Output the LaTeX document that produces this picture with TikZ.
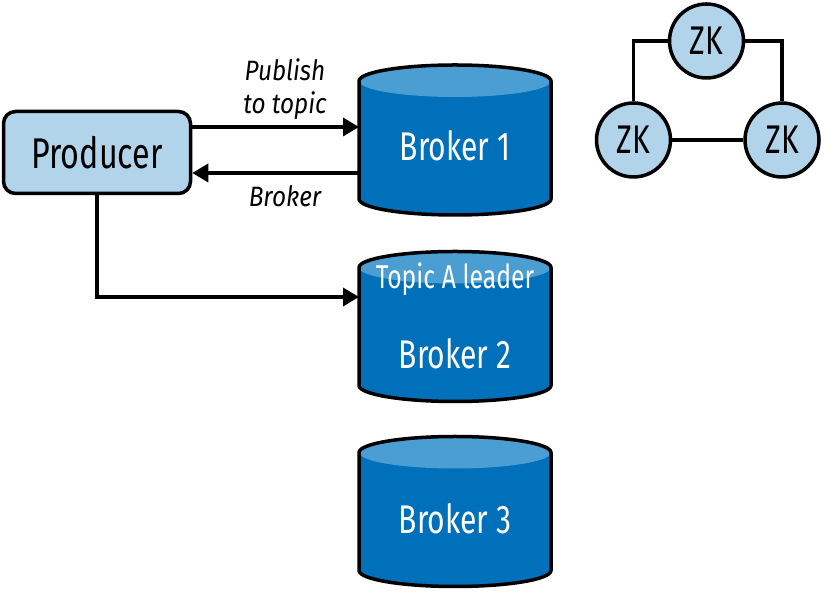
\documentclass[tikz,border=0pt]{standalone}
\usepackage{fontspec}
\setmainfont[FakeStretch=0.75]{Fira Sans}
\newfontfamily\labelfont[FakeStretch=0.87]{Fira Sans}
\usetikzlibrary{arrows.meta}

\definecolor{zkblue}{RGB}{178,212,235}
\definecolor{brokerblue}{RGB}{0,112,186}
\definecolor{brokertop}{RGB}{75,158,209}

\tikzset{
  producer/.style={draw, line width=3.5, fill=zkblue, rounded corners=12,
    minimum width=187, minimum height=82, inner sep=0,
    font=\fontsize{43}{50}\selectfont},
  zk/.style={circle, draw, line width=3.5, fill=zkblue, minimum size=74,
    inner sep=0, font=\fontsize{40}{48}\selectfont},
  broker/.style={minimum width=192, minimum height=150, inner sep=0, outer sep=0},
  brokertext/.style={text=white, inner sep=0, font=\fontsize{40}{48}\selectfont},
  lbl/.style={align=center, inner sep=0,
    font=\labelfont\itshape\fontsize{28}{33}\selectfont},
  flow/.style={line width=3.5, -{Triangle[length=16pt,width=18pt]}},
  link/.style={line width=3.5}
}

\begin{document}
\begin{tikzpicture}[x=1pt, y=1pt]
    \useasboundingbox (0,0) rectangle (824,593);

    % brokers
    \node[broker] (B1) at (455,453) {};
    \node[broker] (B2) at (455,266.5) {};
    \node[broker] (B3) at (455,81.5) {};
    \foreach \b in {B1,B2,B3} {
      \fill[brokerblue] ([yshift=-16]\b.north west) -- ([yshift=16]\b.south west)
        arc[start angle=180, end angle=360, x radius=96, y radius=16]
        -- ([yshift=-16]\b.north east)
        arc[start angle=0, end angle=180, x radius=96, y radius=16] -- cycle;
      \fill[brokertop] ([yshift=-16]\b.north) ellipse[x radius=96, y radius=16];
      \draw[link, line join=round] ([yshift=-16]\b.north west) -- ([yshift=16]\b.south west)
        arc[start angle=180, end angle=360, x radius=96, y radius=16]
        -- ([yshift=-16]\b.north east)
        arc[start angle=0, end angle=180, x radius=96, y radius=16] -- cycle;
    }
    \node[brokertext] (B1text) at (455,447) {Broker 1};
    \node[brokertext] (B2top) at (455,314) {\fontsize{33}{40}\selectfont Topic A leader};
    \node[brokertext] (B2text) at (455,239) {Broker 2};
    \node[brokertext] (B3text) at (455,74) {Broker 3};

    % producer
    \node[producer] (P) at (97,440.5) {Producer};
    \draw[flow] ([yshift=25.5]P.east) -- ([yshift=13]B1.west);
    \draw[flow] ([yshift=-33]B1.west) -- ([yshift=-20.5]P.east);
    \draw[flow] (P.south) |- ([yshift=29.5]B2.west);
    \node[lbl] (pub) at (285,504) {Publish\\to topic};
    \node[lbl, anchor=base] (ret) at (285,386) {Broker};

    % zookeeper ensemble
    \node[zk] (ZK1) at (706.5,552) {ZK};
    \node[zk] (ZK2) at (633.5,453) {ZK};
    \node[zk] (ZK3) at (782,453) {ZK};
    \draw[link] (ZK1.west) -| (ZK2.north);
    \draw[link] (ZK1.east) -| (ZK3.north);
    \draw[link] (ZK2) -- (ZK3);
\end{tikzpicture}
\end{document}
